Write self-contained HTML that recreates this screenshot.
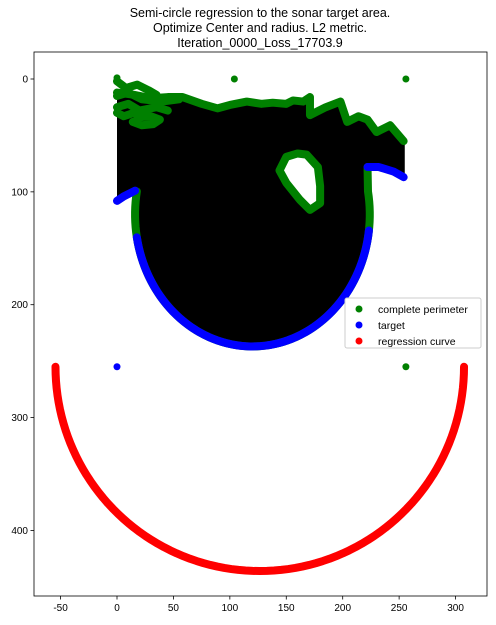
<!DOCTYPE html>
<html><head><meta charset="utf-8"><style>
body{margin:0;background:#fff;font-family:"Liberation Sans",sans-serif}
svg text{font-family:"Liberation Sans",sans-serif}
</style></head><body>
<svg id="chart" width="496" height="620" viewBox="0 0 496 620" xmlns="http://www.w3.org/2000/svg">
<text x="260" y="17" font-size="12.5" text-anchor="middle">Semi-circle regression to the sonar target area.</text>
<text x="260" y="32" font-size="12.5" text-anchor="middle">Optimize Center and radius. L2 metric.</text>
<text x="260" y="47" font-size="12.5" text-anchor="middle">Iteration_0000_Loss_17703.9</text>
<g id="plot"></g>
<rect x="34" y="52" width="453" height="544" fill="none" stroke="#000" stroke-width="0.8"/>
<g id="axes"></g>
<g>
<rect x="345" y="298" width="136" height="50" fill="#fff" stroke="#ccc" rx="2"/>
<circle cx="359" cy="309" r="3.5" fill="#008000"/>
<text x="378" y="313" font-size="10.5">complete perimeter</text>
<circle cx="359" cy="325" r="3.5" fill="#0000ff"/>
<text x="378" y="329" font-size="10.5">target</text>
<circle cx="359" cy="341" r="3.5" fill="#ff0000"/>
<text x="378" y="345" font-size="10.5">regression curve</text>
</g>
</svg>
<script>
const xTicks=[-50,0,50,100,150,200,250,300];
const yTicks=[0,100,200,300,400];
const topEdge=[[0,12],[15,14],[30,17],[45,16],[58,16],[75,22],[89,26],[100,23],[115,20],[128,22],[138,21],[150,22],[156,19],[165,20],[171,16],[171,32],[185,25],[198,20],[204,38],[214,33],[222,36],[230,47],[242,41],[254,55]];
const messyStrokes=[
 [[0,2],[8,8],[18,5],[28,10],[35,14]],
 [[0,15],[10,12],[22,18],[40,20],[55,18]],
 [[0,25],[10,22],[20,28],[35,25],[45,28]],
 [[0,30],[6,33],[15,30]],
 [[14,38],[22,41],[32,40],[38,36],[30,33],[18,34]]
];
const loopPts=[[150,69],[160,66],[168,67],[178,78],[180,95],[180,110],[171,116],[162,107],[150,92],[144,81],[150,69]];
const leftHook=[[0,108],[6,104],[16,99]];
const rightHook=[[222,78],[232,78],[245,82],[254,87]];
const blobCenter=[120,120];
const blobRadii=[104,117];
const blueArcDeg=[170,7];
const regCenter=[126.5,255];
const regRadius=[181];
const singleGreen=[[0,-1],[104,0],[256,0],[256,255]];
const singleBlue=[[0,255]];

const X=v=>117+v*1.1285, Y=v=>79+v*1.1285;
const NS="http://www.w3.org/2000/svg";
const plot=document.getElementById('plot'), axes=document.getElementById('axes');
function mk(tag,attrs,parent){const e=document.createElementNS(NS,tag);for(const k in attrs)e.setAttribute(k,attrs[k]);parent.appendChild(e);return e;}
const pts=a=>a.map(p=>X(p[0])+','+Y(p[1])).join(' ');
function ell(a){const r=a*Math.PI/180;return [blobCenter[0]+blobRadii[0]*Math.cos(r),blobCenter[1]+blobRadii[1]*Math.sin(r)];}
function arc(a0,a1,n){const o=[];for(let i=0;i<=n;i++)o.push(ell(a0+(a1-a0)*i/n));return o;}
const sideArc=[[222,78]].concat(arc(-10,190,90)).concat([[16,99]]);
let fillPoly=[[0,10]].concat(topEdge).concat([[255,55],[255,87]]).concat(rightHook.slice().reverse());
fillPoly=fillPoly.concat(sideArc).concat(leftHook.slice().reverse()).concat([[0,108]]);
const blob=mk('polygon',{points:pts(fillPoly),fill:'#000'},plot);


const hole=mk('polygon',{points:pts(loopPts),fill:'#fff'},plot);


function line(a,col,name){const e=mk('polyline',{points:pts(a),fill:'none',stroke:col,'stroke-width':8,'stroke-linecap':'round','stroke-linejoin':'round'},plot);

}
line(topEdge,'#008000','perimeter-top-edge');
messyStrokes.forEach(s=>line(s,'#008000','perimeter-top-noise'));
line(loopPts,'#008000','perimeter-inner-loop');
line(sideArc,'#008000','perimeter-arc');
line(leftHook,'#0000ff','target-left-hook');
line(rightHook,'#0000ff','target-right-hook');
line(arc(blueArcDeg[1],blueArcDeg[0],70),'#0000ff','target-arc');
const reg=[];for(let i=0;i<=90;i++){const a=Math.PI*i/90;reg.push([regCenter[0]+regRadius[0]*Math.cos(a),regCenter[1]+regRadius[0]*Math.sin(a)]);}
line(reg,'#ff0000','regression-curve');
singleGreen.forEach(p=>{const c=mk('circle',{cx:X(p[0]),cy:Y(p[1]),r:3.5,fill:'#008000'},plot);

});
singleBlue.forEach(p=>{const c=mk('circle',{cx:X(p[0]),cy:Y(p[1]),r:3.5,fill:'#0000ff'},plot);

});
xTicks.forEach(t=>{mk('line',{x1:X(t),x2:X(t),y1:596,y2:599.5,stroke:'#000','stroke-width':0.8},axes);
const tx=mk('text',{x:X(t),y:611,'font-size':10,'text-anchor':'middle'},axes);tx.textContent=t;

});
yTicks.forEach(t=>{mk('line',{x1:30.5,x2:34,y1:Y(t),y2:Y(t),stroke:'#000','stroke-width':0.8},axes);
const tx=mk('text',{x:28,y:Y(t)+3.5,'font-size':10,'text-anchor':'end'},axes);tx.textContent=t;

});
</script>
</body></html>
